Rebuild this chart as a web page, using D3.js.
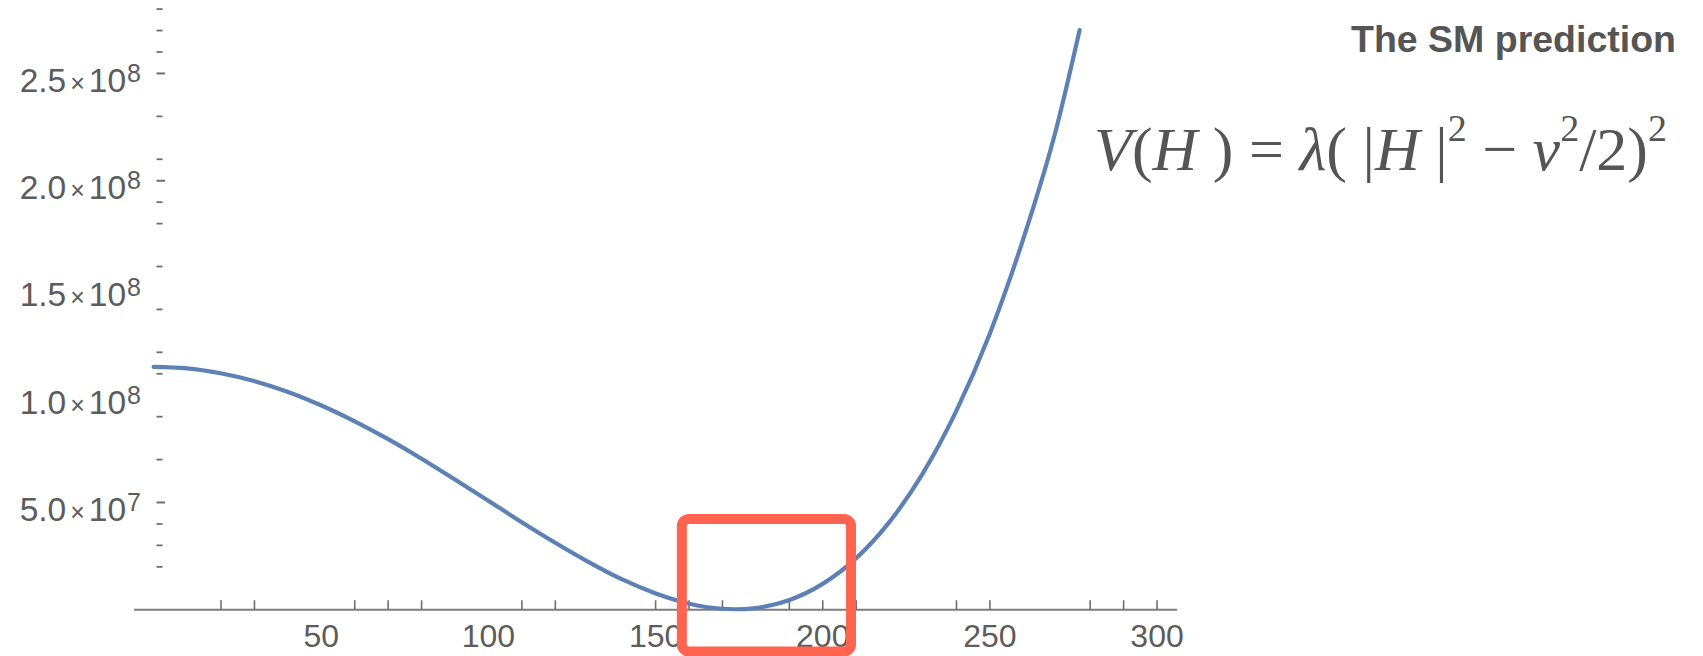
<!DOCTYPE html>
<html>
<head>
<meta charset="utf-8">
<script src="https://cdn.jsdelivr.net/npm/d3@7"></script>
<style>
  html, body { margin: 0; padding: 0; background: #ffffff; }
  svg { display: block; }
  text { white-space: pre; }
</style>
</head>
<body>
<div id="chart"></div>
<script>
// Higgs potential V(H) sampled along H (GeV)
const hValues = [0, 10, 20, 30, 40, 50, 60, 70, 80, 90, 100, 110, 120, 130, 140, 150,
                 160, 170, 174, 180, 190, 200, 210, 220, 230, 240, 250, 260, 270, 277];
const vValues = [1.13e8, 1.123e8, 1.10e8, 1.064e8, 1.014e8, 9.51e7, 8.77e7, 7.94e7, 7.03e7,
                 6.06e7, 5.07e7, 4.07e7, 3.11e7, 2.21e7, 1.40e7, 7.5e6, 2.7e6, 2.3e5, 0,
                 5.6e5, 4.2e6, 1.17e7, 2.36e7, 4.05e7, 6.31e7, 9.21e7, 1.28e8, 1.72e8, 2.24e8, 2.70e8];

// Axis ticks and labels
const xTickMarks = [20, 30, 60, 70, 80, 110, 120, 150, 160, 170, 190, 200, 210, 240, 250, 280, 290, 300];
const xTickLabels = [50, 100, 150, 200, 250, 300];
const yTickMarks = [2e7, 3e7, 4e7, 7e7, 9e7, 1.1e8, 1.2e8, 1.4e8, 1.6e8, 1.8e8, 1.9e8,
                    2.1e8, 2.3e8, 2.6e8, 2.7e8, 2.8e8];
const yMajorTicks = [5e7, 2e8, 2.5e8];
const yLabelValues = [5e7, 1e8, 1.5e8, 2e8, 2.5e8];
const yLabelMantissa = ["5.0", "1.0", "1.5", "2.0", "2.5"];
const yLabelExponent = ["7", "8", "8", "8", "8"];

// Highlighted region around the minimum
const boxH = [158, 208.6];
const boxV = [-1.97e7, 4.21e7];

const title = "The SM prediction";

const W = 1703, H = 656;
const gray = "#5c5c5c";
const curveColor = "#5E81B5";

const svg = d3.select("#chart").append("svg")
  .attr("width", W).attr("height", H)
  .attr("viewBox", `0 0 ${W} ${H}`);

const x = d3.scaleLinear().domain([-6, 306]).range([133.6, 1176.6]);
const y = d3.scaleLinear().domain([0, 2.8e8]).range([609.25, 8.6]);

// x axis: line with upward ticks
const xAxis = d3.axisBottom(x)
  .tickValues(xTickMarks)
  .tickSizeInner(-9)
  .tickSizeOuter(0)
  .tickFormat("");
const gx = svg.append("g").attr("transform", `translate(0,${y(0)})`).call(xAxis);
gx.select(".domain").attr("stroke", "#7d7d7d").attr("stroke-width", 2);
gx.selectAll(".tick line").attr("stroke", "#6e6e6e").attr("stroke-width", 1.6);

// x tick labels
const xLab = d3.axisBottom(x).tickValues(xTickLabels).tickSize(0).tickPadding(28)
  .tickFormat(d3.format("d"));
const gxl = svg.append("g").attr("transform", `translate(0,${y(0)})`).call(xLab);
gxl.select(".domain").remove();
gxl.selectAll(".tick text")
  .attr("font-family", "'Liberation Sans', Arial, sans-serif")
  .attr("font-size", 32)
  .attr("fill", gray)
  .attr("dy", "0.71em")
  .attr("y", 15);

// y axis: short dashes only
const yAxisX = 156.5;
const yMinor = d3.axisRight(y).tickValues(yTickMarks).tickSize(6).tickFormat("");
const gy = svg.append("g").attr("transform", `translate(${yAxisX},0)`).call(yMinor);
gy.select(".domain").remove();
gy.selectAll(".tick line").attr("stroke", "#6e6e6e").attr("stroke-width", 1.8);

const yMajor = d3.axisRight(y).tickValues(yMajorTicks).tickSize(8.5).tickFormat("");
const gyM = svg.append("g").attr("transform", `translate(${yAxisX},0)`).call(yMajor);
gyM.select(".domain").remove();
gyM.selectAll(".tick line").attr("stroke", "#6e6e6e").attr("stroke-width", 2);

// y tick labels in scientific notation
const yl = svg.append("g").selectAll("text")
  .data(yLabelValues)
  .join("text")
  .attr("x", 141)
  .attr("y", d => y(d) + 19)
  .attr("text-anchor", "end")
  .attr("font-family", "'Liberation Sans', Arial, sans-serif")
  .attr("font-size", 33.5)
  .attr("fill", gray);
yl.append("tspan").text((d, i) => yLabelMantissa[i]);
yl.append("tspan").attr("dx", 4).attr("font-size", 25).text("×");
yl.append("tspan").attr("dx", 4).text("10");
yl.append("tspan").attr("dx", 1).attr("dy", -10).attr("font-size", 25)
  .text((d, i) => yLabelExponent[i]);

// potential curve
const pts = hValues.map((h, i) => [h, vValues[i]]);
const line = d3.line()
  .x(d => x(d[0]))
  .y(d => y(d[1]))
  .curve(d3.curveMonotoneX);
svg.append("path")
  .datum(pts)
  .attr("d", line)
  .attr("fill", "none")
  .attr("stroke", curveColor)
  .attr("stroke-width", 4.2)
  .attr("stroke-linecap", "round")
  .attr("stroke-linejoin", "round");

// highlight box around the minimum
svg.append("rect")
  .attr("x", x(boxH[0]))
  .attr("y", y(boxV[1]))
  .attr("width", x(boxH[1]) - x(boxH[0]))
  .attr("height", y(boxV[0]) - y(boxV[1]))
  .attr("rx", 7)
  .attr("fill", "none")
  .attr("stroke", "#FF6450")
  .attr("stroke-width", 10)
  .attr("stroke-linejoin", "round");

// title
svg.append("text")
  .attr("x", 1676).attr("y", 52)
  .attr("text-anchor", "end")
  .attr("font-family", "'Liberation Sans', Arial, sans-serif")
  .attr("font-weight", "bold")
  .attr("font-size", 37.5)
  .attr("fill", "#555555")
  .text(title);

// potential formula
const eqSize = 62;
const supSize = Math.round(eqSize * 0.62);
const raise = Math.round(eqSize * 0.46);
const eq = svg.append("text")
  .attr("x", 1667).attr("y", 170)
  .attr("text-anchor", "end")
  .attr("font-family", "'Liberation Serif', 'Times New Roman', serif")
  .attr("font-size", eqSize)
  .attr("fill", "#555555");
const parts = [
  { t: "V", it: true }, { t: "(" }, { t: "H", it: true }, { t: " )" }, { t: " = " },
  { t: "λ", it: true }, { t: "( " }, { t: "|" }, { t: "H", it: true }, { t: " |" },
  { t: "2", sup: true }, { t: " − " }, { t: "v", it: true }, { t: "2", sup: true },
  { t: "/2)" }, { t: "2", sup: true }
];
let raised = false;
parts.forEach(p => {
  const ts = eq.append("tspan").text(p.t);
  if (p.it) ts.attr("font-style", "italic");
  if (p.sup) {
    ts.attr("font-size", supSize);
    if (!raised) { ts.attr("dy", -raise); raised = true; }
  } else if (raised) {
    ts.attr("dy", raise);
    raised = false;
  }
});
</script>
</body>
</html>
